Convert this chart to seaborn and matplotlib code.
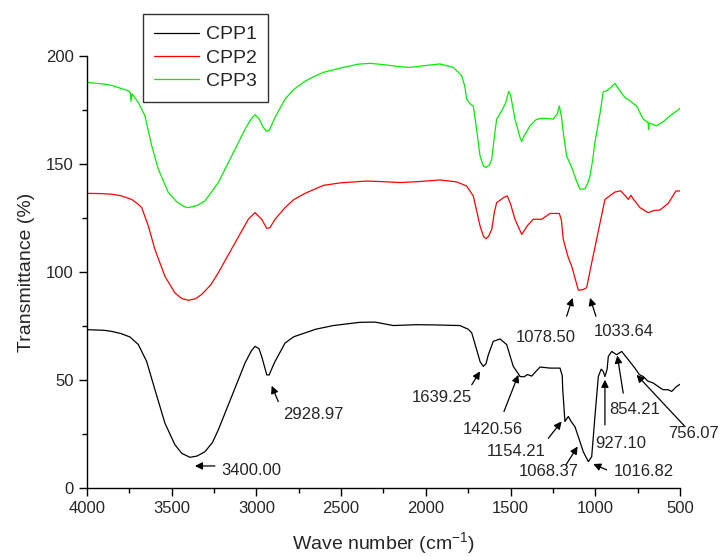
import numpy as np
import pandas as pd
import seaborn as sns
import matplotlib.pyplot as plt

# FTIR spectra (wavenumber in cm-1, transmittance in %)
cpp1_wn = [4000, 3900, 3854, 3800, 3746, 3697, 3648, 3599, 3540, 3481, 3440, 3392, 3350, 3304,
           3260, 3225, 3146, 3067, 3030, 3008, 2985, 2969, 2939, 2925, 2905, 2890, 2831, 2780,
           2713, 2650, 2546, 2389, 2300, 2192, 2054, 1950, 1799, 1750, 1729, 1700, 1680, 1661,
           1645, 1631, 1602, 1562, 1523, 1484, 1454, 1444, 1420, 1400, 1375, 1350, 1326, 1267,
           1208, 1195, 1192, 1179, 1159, 1140, 1120, 1094, 1071, 1041, 1021, 1002, 982, 965,
           953, 943, 930, 923, 903, 874, 844, 805, 766, 740, 717, 690, 658, 620, 599, 570, 549,
           520, 500]
cpp1_t = [73.3, 73.0, 72.5, 71.5, 69.9, 66.4, 58.6, 45.5, 30.0, 20.0, 16.0, 14.2, 14.8, 16.8,
          21.0, 26.9, 42.4, 57.9, 63.5, 65.6, 64.5, 60.9, 52.4, 52.3, 56.0, 58.6, 67.1, 70.0,
          71.8, 73.5, 75.2, 76.7, 76.8, 75.2, 75.6, 75.5, 75.2, 73.5, 71.8, 64.0, 58.5, 56.3,
          57.5, 61.7, 67.9, 69.0, 66.4, 56.3, 52.9, 51.6, 51.5, 52.5, 51.8, 54.0, 56.0, 55.5,
          55.5, 52.0, 45.5, 30.8, 33.1, 30.5, 28.4, 22.3, 16.8, 12.2, 14.5, 33.1, 51.6, 55.0,
          54.0, 51.6, 55.0, 60.9, 63.2, 61.7, 63.2, 59.4, 55.5, 52.5, 51.6, 49.5, 48.6, 46.5,
          45.5, 45.5, 44.7, 47.0, 48.0]

cpp2_wn = [4000, 3920, 3854, 3800, 3736, 3700, 3677, 3638, 3599, 3540, 3481, 3440, 3402, 3360,
           3323, 3270, 3225, 3180, 3126, 3048, 3008, 2969, 2939, 2920, 2890, 2831, 2780, 2713,
           2605, 2500, 2349, 2250, 2153, 2050, 1917, 1818, 1759, 1720, 1680, 1660, 1645, 1630,
           1611, 1595, 1582, 1540, 1519, 1500, 1474, 1434, 1400, 1366, 1316, 1267, 1212, 1200,
           1189, 1159, 1139, 1100, 1074, 1051, 1021, 992, 943, 884, 850, 820, 805, 790, 776,
           736, 700, 687, 650, 618, 569, 524, 500]
cpp2_t = [136.4, 136.3, 136.0, 135.3, 133.6, 131.5, 129.8, 121.3, 110.4, 98.0, 90.3, 87.7, 86.9,
          87.6, 89.6, 94.0, 99.6, 106.0, 113.5, 124.4, 127.5, 124.4, 120.2, 120.5, 124.4, 129.8,
          133.5, 136.4, 140.1, 141.3, 142.1, 141.8, 141.4, 141.8, 142.6, 141.7, 139.8, 135.2,
          121.3, 116.5, 115.4, 116.5, 119.7, 128.0, 132.1, 134.5, 135.2, 131.5, 124.4, 117.4,
          121.5, 124.4, 124.4, 127.1, 127.1, 124.0, 115.1, 106.6, 102.7, 91.6, 91.8, 92.7, 104.3,
          115.1, 133.6, 137.0, 137.6, 135.0, 133.6, 135.5, 133.8, 129.8, 128.0, 127.5, 128.5,
          128.7, 131.8, 137.5, 137.5]

cpp3_wn = [4000, 3900, 3850, 3800, 3756, 3745, 3740, 3735, 3697, 3658, 3618, 3579, 3520, 3470,
           3422, 3400, 3350, 3304, 3225, 3146, 3067, 3030, 3008, 2985, 2960, 2939, 2925, 2905,
           2890, 2831, 2780, 2713, 2660, 2605, 2500, 2400, 2330, 2250, 2150, 2094, 2000, 1917,
           1838, 1789, 1770, 1759, 1735, 1720, 1710, 1680, 1660, 1645, 1625, 1611, 1595, 1582,
           1552, 1530, 1511, 1500, 1474, 1444, 1434, 1420, 1385, 1350, 1316, 1280, 1248, 1225,
           1212, 1200, 1189, 1169, 1139, 1110, 1090, 1061, 1045, 1031, 1015, 1002, 972, 953,
           930, 900, 884, 860, 825, 800, 775, 756, 717, 695, 687, 686, 680, 638, 600, 559, 500]
cpp3_t = [187.8, 187.0, 186.3, 185.0, 183.9, 183.0, 179.0, 182.5, 178.5, 172.3, 158.4, 147.6,
          136.8, 132.5, 130.1, 129.8, 130.8, 132.9, 141.4, 153.7, 166.1, 171.0, 172.8, 171.0,
          167.0, 165.1, 165.5, 169.0, 171.6, 180.0, 184.5, 188.3, 190.5, 192.4, 194.5, 196.2,
          196.6, 196.0, 195.0, 194.7, 195.6, 196.3, 194.7, 190.9, 186.0, 180.0, 177.5, 176.9,
          171.6, 153.7, 149.0, 148.4, 149.5, 152.2, 163.0, 170.8, 174.6, 178.0, 183.6, 182.0,
          170.8, 162.3, 160.4, 163.0, 167.7, 170.5, 171.2, 171.0, 170.8, 173.0, 176.9, 172.0,
          164.6, 153.7, 148.4, 142.0, 138.3, 138.5, 141.0, 144.5, 152.0, 160.0, 173.4, 183.4,
          184.0, 186.0, 187.3, 184.5, 180.8, 179.5, 178.0, 176.9, 170.8, 169.5, 168.9, 166.0,
          169.0, 167.7, 169.5, 172.3, 175.7]

series_names = ['CPP1', 'CPP2', 'CPP3']
series_colors = ['#000000', '#ff0000', '#00ee00']

peak_labels = ['3400.00', '2928.97', '1639.25', '1420.56', '1154.21', '1068.37',
               '1016.82', '927.10', '854.21', '756.07', '1078.50', '1033.64']

# (arrow head, arrow tail, label centre) in data coords for each peak label
arrow_heads = [(3363, 10.2), (2910, 47.3), (1680, 54.0), (1454, 52.4), (1199, 30.8), (1104, 19.2),
               (1012, 11.1), (943, 50.1), (870, 61.3), (756, 52.4), (1134, 88.0), (1031, 88.0)]
arrow_tails = [(3245, 10.2), (2871, 40.0), (1729, 47.8), (1539, 35.4), (1277, 23.0), (1173, 10.7),
               (933, 8.4), (943, 29.2), (835, 43.9), (470, 28.4), (1169, 79.5), (996, 79.5)]
label_pos = [(3032, 8.0), (2666, 33.9), (1907, 42.0), (1604, 27.3), (1464, 16.8), (1273, 7.6),
             (713, 7.6), (849, 20.7), (768, 36.2), (418, 25.4), (1292, 69.9), (830, 72.5)]

frames = []
for name, wn, t in zip(series_names, [cpp1_wn, cpp2_wn, cpp3_wn], [cpp1_t, cpp2_t, cpp3_t]):
    frames.append(pd.DataFrame({'wn': wn, 'T': t, 'sample': name}))
df = pd.concat(frames, ignore_index=True)

sns.set_style('ticks')
plt.rcParams['font.family'] = ['Liberation Sans', 'DejaVu Sans']
plt.rcParams['mathtext.fontset'] = 'custom'
plt.rcParams['mathtext.rm'] = 'Liberation Sans'
plt.rcParams['mathtext.it'] = 'Liberation Sans'

fig = plt.figure(figsize=(7.22, 5.57), dpi=100)
ax = fig.add_axes([0.1205, 0.1239, 0.8213, 0.7756])

sns.lineplot(data=df, x='wn', y='T', hue='sample', palette=dict(zip(series_names, series_colors)),
             estimator=None, sort=False, linewidth=0.9, ax=ax)

ax.set_xlim(4000, 500)
ax.set_ylim(0, 200)
ax.set_xticks(np.arange(500, 4001, 500))
ax.set_xticks(np.arange(750, 4000, 500), minor=True)
ax.set_yticks(np.arange(0, 201, 50))
ax.set_yticks(np.arange(25, 200, 50), minor=True)
ax.tick_params(which='major', direction='out', length=6, width=1, labelsize=12, color='k')
ax.tick_params(which='minor', direction='out', length=3.5, width=1, color='k')
for s in ['left', 'bottom']:
    ax.spines[s].set_color('k')
    ax.spines[s].set_linewidth(1)
sns.despine(ax=ax)

ax.set_xlabel('Wave number (cm$^{-1}$)', fontsize=14, labelpad=10)
ax.set_ylabel('Transmittance (%)', fontsize=14, labelpad=8)

for lab, head, tail, pos in zip(peak_labels, arrow_heads, arrow_tails, label_pos):
    ax.annotate('', xy=head, xytext=tail, annotation_clip=False,
                arrowprops=dict(arrowstyle='-|>', color='k', lw=0.9, mutation_scale=11,
                                shrinkA=0, shrinkB=0))
    ax.text(pos[0], pos[1], lab, fontsize=12, ha='center', va='center', clip_on=False)

leg = ax.legend(loc='upper left', bbox_to_anchor=(0.094, 1.097), borderaxespad=0, fontsize=14,
                frameon=True, fancybox=False, handlelength=2.3, labelspacing=0.3,
                borderpad=0.6, handletextpad=0.35)
leg.get_frame().set_edgecolor('#333333')
leg.get_frame().set_linewidth(1)
leg.get_frame().set_alpha(1)

fig.savefig('out.png', dpi=100)
